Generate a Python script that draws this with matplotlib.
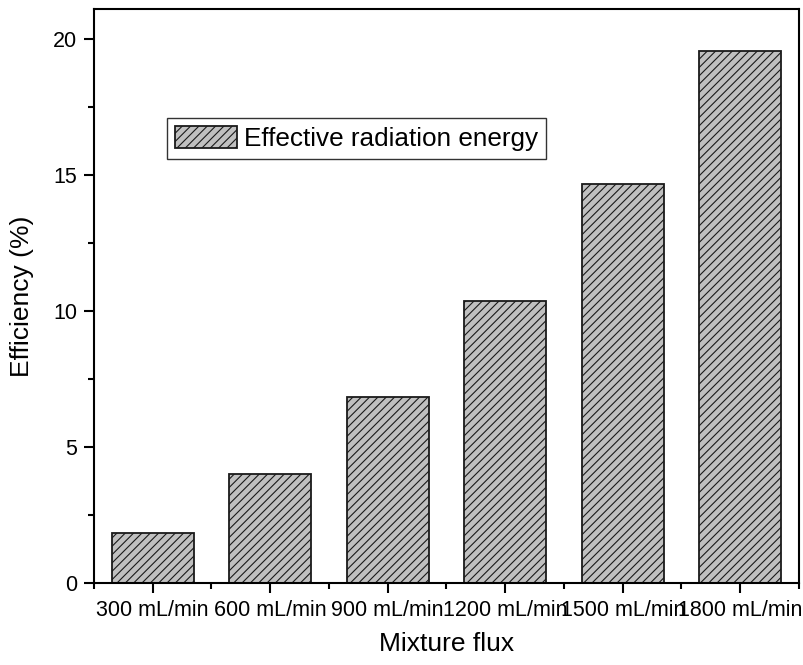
import matplotlib
matplotlib.use("Agg")
import matplotlib.pyplot as plt
from matplotlib.ticker import MultipleLocator
import numpy as np

flux_labels = ["300 mL/min", "600 mL/min", "900 mL/min",
               "1200 mL/min", "1500 mL/min", "1800 mL/min"]
efficiency = [1.84, 4.0, 6.84, 10.37, 14.67, 19.56]

plt.rcParams["font.family"] = ["Liberation Sans", "DejaVu Sans"]
plt.rcParams["hatch.linewidth"] = 0.8
plt.rcParams["hatch.color"] = "#1a1a1a"

fig = plt.figure(figsize=(8.04, 6.65), dpi=100)
ax = fig.add_axes([94 / 804, 82 / 665, 705 / 804, 574 / 665])

x = np.arange(len(flux_labels))
ax.bar(x, efficiency, width=0.7, color="#c0c0c0", edgecolor="#1a1a1a",
       linewidth=1.3, hatch="////", label="Effective radiation energy")

ax.set_xlim(-0.5, len(flux_labels) - 0.5)
ax.set_ylim(0, 21.1)
ax.set_xticks(x)
ax.set_xticklabels(flux_labels)
ax.xaxis.set_minor_locator(MultipleLocator(1, offset=0.5))
ax.yaxis.set_major_locator(MultipleLocator(5))
ax.yaxis.set_minor_locator(MultipleLocator(2.5))

for s in ax.spines.values():
    s.set_linewidth(1.5)
ax.tick_params(which="major", direction="out", length=7, width=1.5,
               labelsize=15.5, pad=5)
ax.tick_params(which="minor", direction="out", length=4, width=1.5)

ax.set_xlabel("Mixture flux", fontsize=19, labelpad=8)
ax.set_ylabel("Efficiency (%)", fontsize=19, labelpad=14)

leg = ax.legend(loc="upper left", bbox_to_anchor=(73 / 705, 1 - 109 / 574),
                fontsize=18.8, frameon=True, fancybox=False, edgecolor="black",
                borderpad=0.3, handlelength=2.4, handleheight=0.9,
                handletextpad=0.25, borderaxespad=0)
leg.get_frame().set_linewidth(1.0)

fig.savefig("out.png", dpi=100)
